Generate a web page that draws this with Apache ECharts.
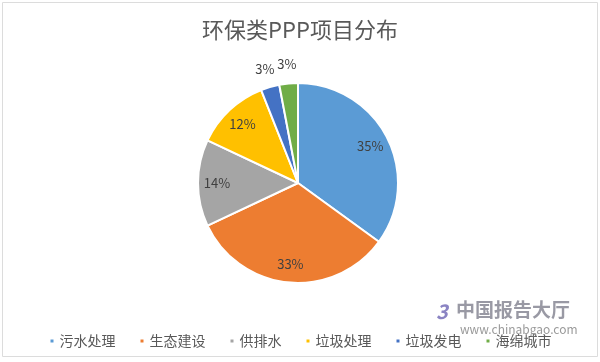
<!DOCTYPE html>
<html>
<head>
<meta charset="utf-8">
<script src="https://cdn.jsdelivr.net/npm/echarts@6/dist/echarts.min.js"></script>
<style>
html,body{margin:0;padding:0;background:#fff;}
#c{width:600px;height:362px;}
</style>
</head>
<body>
<div id="c"></div>
<script>
const titleText = '环保类PPP项目分布';
const categories = ['污水处理', '生态建设', '供排水', '垃圾处理', '垃圾发电', '海绵城市'];
const values = [35, 33, 14, 12, 3, 3];
const colors = ['#5B9BD5', '#ED7D31', '#A5A5A5', '#FFC000', '#4472C4', '#70AD47'];
const outsideLabelItems = ['垃圾发电', '海绵城市'];

const font = '"Noto Sans CJK SC", "Noto Sans", sans-serif';
const total = values.reduce((a, b) => a + b, 0);

const chart = echarts.init(document.getElementById('c'), null, {renderer: 'canvas'});

const mainData = categories.map((n, i) => ({name: n, value: values[i], itemStyle: {color: colors[i]}}));
const innerLabelData = categories.map((n, i) => ({
  name: n, value: values[i],
  label: {show: !outsideLabelItems.includes(n)}
}));
const outerLabelData = categories.map((n, i) => ({
  name: n, value: values[i],
  label: {show: outsideLabelItems.includes(n)}
}));

const labelSeries = (radius, data) => ({
  type: 'pie',
  center: [298, 183],
  radius: radius,
  startAngle: 90,
  clockwise: true,
  silent: true,
  avoidLabelOverlap: false,
  legendHoverLink: false,
  itemStyle: {color: 'transparent', borderWidth: 0},
  label: {
    position: 'inside',
    formatter: p => Math.round(p.value / total * 100) + '%',
    fontFamily: font,
    fontSize: 13,
    color: '#404040'
  },
  labelLine: {show: false},
  emphasis: {disabled: true},
  data: data
});

chart.setOption({
  animation: false,
  backgroundColor: '#fff',
  color: colors,
  title: {
    text: titleText,
    left: 'center',
    top: 14,
    textStyle: {fontFamily: font, fontSize: 22, fontWeight: 'normal', color: '#595959'}
  },
  legend: {
    data: categories,
    top: 329,
    left: 'center',
    icon: 'rect',
    itemWidth: 5,
    itemHeight: 5,
    itemGap: 23,
    textStyle: {fontFamily: font, fontSize: 14, color: '#595959'}
  },
  graphic: [
    {type: 'rect', shape: {x: 2.5, y: 2.5, width: 595, height: 354}, style: {fill: 'none', stroke: '#dcdcdc', lineWidth: 1}, silent: true, z: -1},
    {type: 'text', left: 436, top: 301, style: {text: '3', font: 'italic bold 20px ' + font, fill: 'rgba(90,80,170,0.7)'}, silent: true, z: 10},
    {type: 'text', left: 456, top: 300, style: {text: '中国报告大厅', font: 'bold 19px ' + font, fill: 'rgba(110,110,125,0.7)'}, silent: true, z: 10},
    {type: 'text', left: 460, top: 323, style: {text: 'www.chinabgao.com', font: '12px ' + font, fill: 'rgba(120,120,120,0.75)'}, silent: true, z: 10}
  ],
  series: [
    {
      type: 'pie',
      center: [298, 183],
      radius: [0, 100],
      startAngle: 90,
      clockwise: true,
      avoidLabelOverlap: false,
      label: {show: false},
      labelLine: {show: false},
      itemStyle: {borderColor: '#fff', borderWidth: 2},
      emphasis: {disabled: true},
      data: mainData
    },
    labelSeries([56, 100], innerLabelData),
    labelSeries([100, 132], outerLabelData)
  ]
});
</script>
</body>
</html>
